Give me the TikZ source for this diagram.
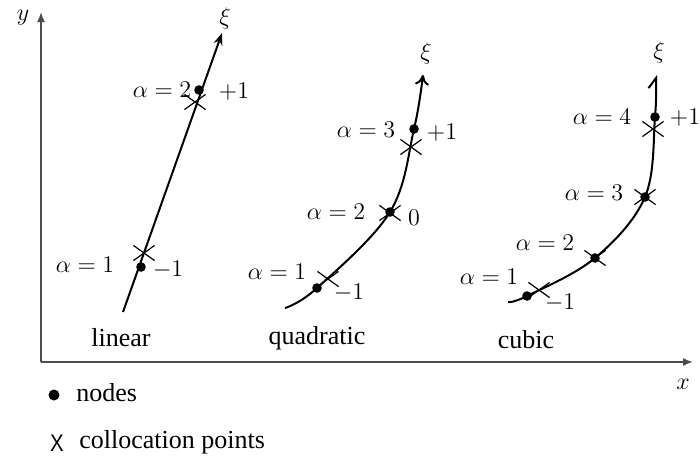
\documentclass[tikz,border=0pt]{standalone}
\usepackage{amsmath}
\usepackage{fontspec}
\setmainfont{Liberation Serif}
\newfontfamily\legsans{Liberation Sans}
\usepackage{tikz}
\usetikzlibrary{arrows.meta,shapes.misc}

\begin{document}
\begin{tikzpicture}[x=0.5pt,y=-0.5pt,
        dot/.style={circle,fill,inner sep=0pt,minimum size=4.8pt},
        colpt/.style={cross out,draw,line width=0.6pt,inner sep=0pt,minimum width=10pt,minimum height=7pt},
        lab/.style={font=\fontsize{12.8}{15}\selectfont,inner sep=0pt},
        txt/.style={font=\fontsize{13}{15}\selectfont,inner sep=0pt},
        curve/.style={line width=1pt}]
        \useasboundingbox (0,0) rectangle (700,462);
        % axes
        \coordinate (o) at (41,362);
        \coordinate (ytip) at (41,12);
        \coordinate (xtip) at (693,362);
        \draw[gray!60!black,line width=0.8pt,-{Latex[length=5pt,width=4pt]}] (o) -- (ytip);
        \draw[gray!60!black,line width=0.8pt,-{Latex[length=5pt,width=4pt]}] (o) -- (xtip);
        \node[lab] (ylab) at (23,18) {$y$};
        \node[lab] (xlab) at (683,384) {$x$};
        % linear element
        \coordinate (l0) at (123,312);
        \coordinate (l3) at (222,33);
        \draw[curve,-{Stealth[length=6pt,width=4.5pt]}] (l0) -- (l3);
        \node[dot] (ln1) at (141,267) {};
        \node[dot] (ln2) at (199,90) {};
        \node[colpt] (lc1) at (144,253) {};
        \node[colpt] (lc2) at (195,102) {};
        \node[lab] at (225,18) {$\xi$};
        \node[lab] at (85,265) {$\alpha=1$};
        \node[lab] at (168,270) {$-1$};
        \node[lab] at (162,90) {$\alpha=2$};
        \node[lab] at (234,92) {$+1$};
        \node[txt] (linlab) at (121,338) {linear};
        % quadratic element
        \coordinate (q0) at (285,308);
        \coordinate (q1) at (317,288);
        \coordinate (q2) at (390,212);
        \coordinate (q3) at (414,129);
        \coordinate (q4) at (423,75);
        \draw[curve,-{To[length=5pt,width=7pt]}] plot[smooth,tension=0.6] coordinates {(q0) (q1) (q2) (q3) (q4)};
        \node[dot] (qn1) at (q1) {};
        \node[dot] (qn2) at (q2) {};
        \node[dot] (qn3) at (q3) {};
        \node[colpt] (qc1) at (328,279) {};
        \node[colpt] (qc2) at (390,213) {};
        \node[colpt] (qc3) at (411,147) {};
        \node[lab] at (426,53) {$\xi$};
        \node[lab] at (277,272) {$\alpha=1$};
        \node[lab] at (349,293) {$-1$};
        \node[lab] at (336,212) {$\alpha=2$};
        \node[lab] at (414,218) {$0$};
        \node[lab] at (366,130) {$\alpha=3$};
        \node[lab] at (442,133) {$+1$};
        \node[txt] (quadlab) at (317,338) {quadratic};
        % cubic element
        \coordinate (c0) at (508,302);
        \coordinate (c1) at (527,296);
        \coordinate (c2) at (595,258);
        \coordinate (c3) at (645,197);
        \coordinate (c4) at (655,117);
        \coordinate (c5) at (656,75);
        \draw[curve,-{Straight Barb[left,length=5pt,width=8pt]}] plot[smooth,tension=0.6] coordinates {(c0) (c1) (c2) (c3) (c4) (c5)};
        \node[dot] (cn1) at (c1) {};
        \node[dot] (cn2) at (c2) {};
        \node[dot] (cn3) at (c3) {};
        \node[dot] (cn4) at (c4) {};
        \node[colpt] (cc1) at (539,290) {};
        \node[colpt] (cc2) at (595,258) {};
        \node[colpt] (cc3) at (645,197) {};
        \node[colpt] (cc4) at (653,129) {};
        \node[lab] at (659,52) {$\xi$};
        \node[lab] at (489,277) {$\alpha=1$};
        \node[lab] at (560,303) {$-1$};
        \node[lab] at (545,243) {$\alpha=2$};
        \node[lab] at (594,193) {$\alpha=3$};
        \node[lab] at (602,117) {$\alpha=4$};
        \node[lab] at (685,118) {$+1$};
        \node[txt] (cublab) at (526,340) {cubic};
        % legend
        \node[dot,minimum size=5.5pt] (legdot) at (54,395) {};
        \node[txt,anchor=west] (legnodes) at (76,393) {nodes};
        \node[font=\legsans\large,inner sep=0pt,xscale=0.85] (legx) at (57,443) {X};
        \node[txt,anchor=west] (legcol) at (79,442) {collocation points};
\end{tikzpicture}
\end{document}
